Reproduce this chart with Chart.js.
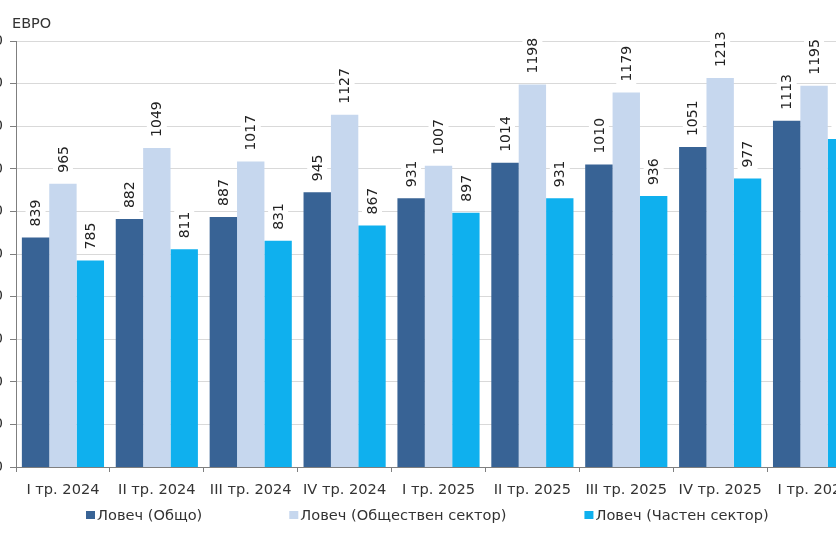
<!DOCTYPE html>
<html>
<head>
<meta charset="utf-8">
<script src="https://cdn.jsdelivr.net/npm/chart.js@4.4.1/dist/chart.umd.min.js"></script>
<style>
  html, body { margin: 0; padding: 0; width: 836px; height: 546px; overflow: hidden; background: #ffffff; }
  #wrap { position: absolute; left: -60px; top: 0; width: 969px; height: 546px; }
  #unit { position: absolute; left: 12px; top: 15px; font-family: "DejaVu Sans", Verdana, sans-serif; font-size: 14.5px; color: #333333; }
</style>
</head>
<body>
<div id="wrap"><canvas id="c"></canvas></div>
<div id="unit">ЕВРО</div>
<script>
const categories = ["I тр. 2024", "II тр. 2024", "III тр. 2024", "IV тр. 2024", "I тр. 2025", "II тр. 2025", "III тр. 2025", "IV тр. 2025", "I тр. 2026"];
const seriesNames = ["Ловеч (Общо)", "Ловеч (Обществен сектор)", "Ловеч (Частен сектор)"];
const totalValues = [839, 882, 887, 945, 931, 1014, 1010, 1051, 1113];
const publicValues = [965, 1049, 1017, 1127, 1007, 1198, 1179, 1213, 1195];
const privateValues = [785, 811, 831, 867, 897, 931, 936, 977, 1070];
const yTicks = [300, 400, 500, 600, 700, 800, 900, 1000, 1100, 1200, 1300];
const seriesColors = ['#386395', '#c6d7ee', '#0fb0ee'];

const FONT = '"DejaVu Sans", Verdana, sans-serif';
const OFFSET_LEFT = 60; // canvas is shifted left by this many px

const valueLabels = {
  id: 'valueLabels',
  afterDatasetsDraw(chart) {
    const ctx = chart.ctx;
    ctx.save();
    ctx.font = '14px ' + FONT;
    chart.data.datasets.forEach((ds, di) => {
      const meta = chart.getDatasetMeta(di);
      meta.data.forEach((bar, i) => {
        const txt = String(ds.data[i]);
        const w = ctx.measureText(txt).width;
        ctx.save();
        ctx.translate(bar.x, bar.y - 11);
        ctx.rotate(-Math.PI / 2);
        ctx.fillStyle = '#ffffff';
        ctx.fillRect(-4, -10, w + 8, 20);
        ctx.fillStyle = '#222222';
        ctx.textAlign = 'left';
        ctx.textBaseline = 'middle';
        ctx.fillText(txt, 0, 1);
        ctx.restore();
      });
    });
    ctx.restore();
  }
};

const bottomLegend = {
  id: 'bottomLegend',
  afterDraw(chart) {
    const ctx = chart.ctx;
    ctx.save();
    ctx.font = '14.6px ' + FONT;
    const gaps = [87, 78], boxW = 9, boxH = 8, textOff = 11;
    const items = chart.data.datasets.map(ds => ({ text: ds.label, color: ds.backgroundColor, w: ctx.measureText(ds.label).width }));
    const cy = 516;
    let x = 86 + OFFSET_LEFT;
    items.forEach((it, i) => {
      ctx.fillStyle = it.color;
      ctx.fillRect(x, cy - 5, boxW, boxH);
      ctx.fillStyle = '#333333';
      ctx.textAlign = 'left';
      ctx.textBaseline = 'middle';
      ctx.fillText(it.text, x + textOff, cy);
      x += textOff + it.w + (gaps[i] || 0);
    });
    ctx.restore();
  }
};

new Chart(document.getElementById('c'), {
  type: 'bar',
  data: {
    labels: categories,
    datasets: [
      { label: seriesNames[0], data: totalValues, backgroundColor: seriesColors[0], borderWidth: 0 },
      { label: seriesNames[1], data: publicValues, backgroundColor: seriesColors[1], borderWidth: 0 },
      { label: seriesNames[2], data: privateValues, backgroundColor: seriesColors[2], borderWidth: 0 }
    ]
  },
  options: {
    responsive: true,
    maintainAspectRatio: false,
    animation: false,
    devicePixelRatio: 1,
    layout: { padding: { top: 41, right: 48, bottom: 49, left: 0 } },
    datasets: { bar: { categoryPercentage: 0.875, barPercentage: 1.0 } },
    scales: {
      x: {
        offset: true,
        afterFit(axis) { axis.height = 30; },
        grid: { display: true, offset: true, drawOnChartArea: false, drawTicks: true, tickLength: 5, tickColor: '#7f7f7f' },
        border: { display: true, color: '#7f7f7f', width: 1 },
        ticks: { color: '#333333', font: { family: FONT, size: 14.6 }, padding: 9, maxRotation: 0, autoSkip: false }
      },
      y: {
        min: 300,
        max: 1300,
        afterFit(axis) { axis.width = 76; },
        afterBuildTicks(axis) { axis.ticks = yTicks.map(v => ({ value: v })); },
        grid: { color: '#d9d9d9', tickColor: '#7f7f7f', tickLength: 6, drawTicks: true },
        border: { display: true, color: '#7f7f7f', width: 1 },
        ticks: { color: '#333333', font: { family: FONT, size: 14.6 }, padding: 7 }
      }
    },
    plugins: {
      legend: { display: false },
      tooltip: { enabled: false }
    }
  },
  plugins: [valueLabels, bottomLegend]
});
</script>
</body>
</html>
